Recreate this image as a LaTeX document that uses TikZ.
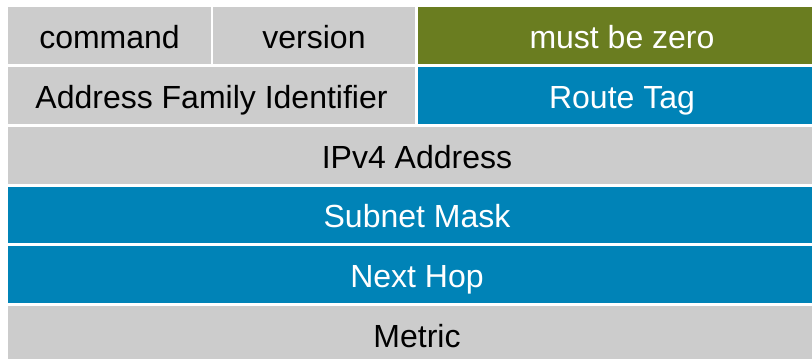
\documentclass[tikz,border=0pt]{standalone}
\usepackage{fontspec}
\setmainfont{Liberation Sans}
\usetikzlibrary{positioning}

% couleurs des champs
\definecolor{champGris}{HTML}{CCCCCC}
\definecolor{champVert}{HTML}{6A7D20}
\definecolor{champBleu}{HTML}{0083B7}

\tikzset{
  champ/.style={anchor=north west, inner sep=0pt, outer sep=0pt,
    font=\fontsize{32}{37}\selectfont, text height=25pt, text depth=0pt},
  gris/.style={champ, fill=champGris, text=black},
  vert/.style={champ, fill=champVert, text=white},
  bleu/.style={champ, fill=champBleu, text=white}
}

\begin{document}
\begin{tikzpicture}[x=1pt,y=-1pt]

\useasboundingbox (0,0) rectangle (812,359);
\clip (0,0) rectangle (812,359);

%%%%%%%%%%%%%%%%%%%%%%%%
%Début entête RIPv2
%%%%%%%%%%%%%%%%%%%%%%%%

    %largeur totale d'une ligne (dépasse le cadre)
    \def \Largeur {818}
    %hauteur d'une ligne
    \def \Haut {57}

% ligne 1
\node[gris, minimum width=203pt, minimum height=\Haut pt] (cmd) at (8,7) {command};
\node[gris, minimum width=202pt, minimum height=\Haut pt] (ver) at (213,7) {version};
\node[vert, minimum width=408pt, minimum height=\Haut pt] (mbz) at (418,7) {must be zero};

% ligne 2
\node[gris, minimum width=407pt, minimum height=\Haut pt] (afi) at (8,67) {Address Family Identifier};
\node[bleu, minimum width=408pt, minimum height=\Haut pt] (tag) at (418,67) {Route Tag};

% lignes 3 a 6 (toute la largeur)
\node[gris, minimum width=\Largeur pt, minimum height=\Haut pt] (ip) at (8,127) {IPv4 Address};
\node[bleu, minimum width=\Largeur pt, minimum height=56pt] (mask) at (8,187) {Subnet Mask};
\node[bleu, minimum width=\Largeur pt, minimum height=\Haut pt] (hop) at (8,246) {Next Hop};
\node[gris, minimum width=\Largeur pt, minimum height=\Haut pt] (metric) at (8,306) {Metric};

%%%%%%%%%%%%%%%%%%%%%%%%
%Fin entête
%%%%%%%%%%%%%%%%%%%%%%%%

\end{tikzpicture}
\end{document}
